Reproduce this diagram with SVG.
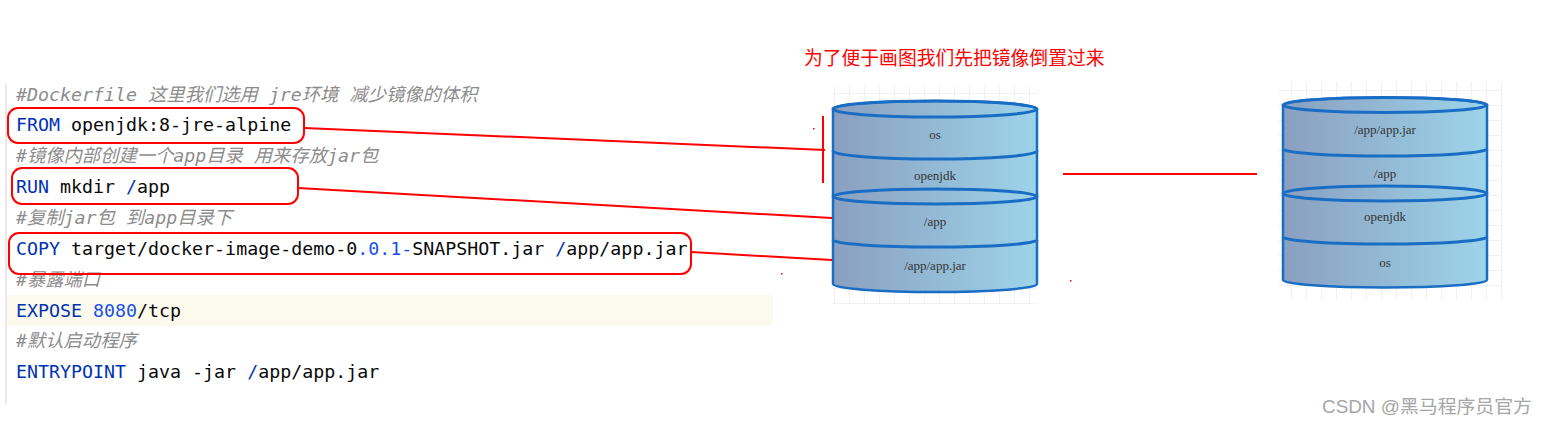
<svg xmlns="http://www.w3.org/2000/svg" width="1547" height="424" viewBox="0 0 1547 424">
<style>
.code{font-family:"DejaVu Sans Mono","Liberation Mono","Noto Sans CJK SC",monospace;font-size:18.3px;fill:#080808}
.cm{font-style:italic;fill:#8c8c8c}
.kw{fill:#0033b3}
.num{fill:#1750eb}
.box{fill:none;stroke:#ff0000;stroke-width:2}
.conn{stroke:#ff0000;stroke-width:2;fill:none}
.cyl{fill:url(#cylGrad);stroke:#1a6dc4;stroke-width:2.5}
.div{fill:none;stroke:#1a6dc4;stroke-width:3}
.lbl{font-family:"Liberation Serif","Times New Roman",serif;font-size:13px;fill:#333;text-anchor:middle}
</style>
<defs>
<linearGradient id="cylGrad" x1="0" y1="0" x2="1" y2="0">
<stop offset="0" stop-color="#8a9fc0"/>
<stop offset="1" stop-color="#9dd4ea"/>
</linearGradient>
<pattern id="gridL" patternUnits="userSpaceOnUse" x="834" y="93" width="15" height="15">
<path d="M0 0V15M0 0H15" stroke="#e3e3e3" stroke-width="1" fill="none"/>
</pattern>
<pattern id="gridR" patternUnits="userSpaceOnUse" x="1291" y="90" width="15" height="15">
<path d="M0 0V15M0 0H15" stroke="#e3e3e3" stroke-width="1" fill="none"/>
</pattern>
</defs>
<rect width="1547" height="424" fill="#ffffff"/>

<g id="code-panel">
<line x1="6" y1="84" x2="6" y2="404" stroke="#e2e2e2" stroke-width="1.5"/>
<rect x="7" y="295" width="766" height="31" fill="#fcfaed"/>
<text class="code cm" x="16" y="101">#Dockerfile 这里我们选用 jre环境 减少镜像的体积</text>
<text class="code" x="16" y="131"><tspan class="kw">FROM</tspan> openjdk:8-jre-alpine</text>
<text class="code cm" x="16" y="162">#镜像内部创建一个app目录 用来存放jar包</text>
<text class="code" x="16" y="193"><tspan class="kw">RUN</tspan> mkdir <tspan class="kw">/</tspan>app</text>
<text class="code cm" x="16" y="224">#复制jar包 到app目录下</text>
<text class="code" x="16" y="255"><tspan class="kw">COPY</tspan> target/docker-image-demo-0<tspan class="num">.0.1-</tspan>SNAPSHOT.jar <tspan class="kw">/</tspan>app/app.jar</text>
<text class="code cm" x="16" y="286">#暴露端口</text>
<text class="code" x="16" y="317"><tspan class="kw">EXPOSE</tspan> <tspan class="num">8080</tspan>/tcp</text>
<text class="code cm" x="16" y="347">#默认启动程序</text>
<text class="code" x="16" y="378"><tspan class="kw">ENTRYPOINT</tspan> java -jar <tspan class="kw">/</tspan>app/app.jar</text>
</g>

<g id="box-from"><rect class="box" x="8" y="108" width="296" height="35" rx="10"/></g>
<g id="box-run"><rect class="box" x="12" y="168" width="286" height="36" rx="10"/></g>
<g id="box-copy"><rect class="box" x="9" y="233" width="682" height="41" rx="10"/></g>

<g id="title">
<text x="804" y="65" font-family="'Noto Sans CJK SC',sans-serif" font-size="18.8" fill="#ff0000">为了便于画图我们先把镜像倒置过来</text>
</g>

<g id="image-left">
<rect x="833" y="86" width="205" height="218" fill="url(#gridL)"/>
<path class="cyl" d="M833 109V284A102 8 0 0 0 1037 284V109A102 8 0 0 0 833 109Z"/>
<ellipse class="div" cx="935" cy="109" rx="102" ry="8" stroke-width="2.5"/>
<path class="div" d="M833 151A102 8 0 0 0 1037 151"/>
<ellipse class="div" cx="935" cy="196.5" rx="102" ry="7.5"/>
<path class="div" d="M833 240A102 7 0 0 0 1037 240"/>
<text class="lbl" x="935" y="139">os</text>
<text class="lbl" x="935" y="180">openjdk</text>
<text class="lbl" x="935" y="226">/app</text>
<text class="lbl" x="935" y="270">/app/app.jar</text>
</g>

<g id="image-right">
<rect x="1278" y="82" width="224" height="218" fill="url(#gridR)"/>
<path class="cyl" d="M1283 105V280A102 7.5 0 0 0 1487 280V105A102 7.5 0 0 0 1283 105Z"/>
<ellipse class="div" cx="1385" cy="105" rx="102" ry="7.5" stroke-width="2.5"/>
<path class="div" d="M1283 149A102 7 0 0 0 1487 149"/>
<ellipse class="div" cx="1385" cy="193.5" rx="102" ry="7.5"/>
<path class="div" d="M1283 237A102 7 0 0 0 1487 237"/>
<text class="lbl" x="1385" y="134">/app/app.jar</text>
<text class="lbl" x="1385" y="178">/app</text>
<text class="lbl" x="1385" y="221">openjdk</text>
<text class="lbl" x="1385" y="267">os</text>
</g>

<g id="connectors">
<line class="conn" x1="304" y1="128" x2="825" y2="150"/>
<line class="conn" x1="823" y1="116" x2="823" y2="183"/>
<line class="conn" x1="298" y1="188" x2="832" y2="218"/>
<line class="conn" x1="691" y1="252" x2="832" y2="260"/>
<line class="conn" x1="1063" y1="174" x2="1257" y2="174"/>
<rect x="813" y="128" width="1.5" height="1.5" fill="#ff0000"/>
<rect x="781" y="273" width="1.5" height="1.5" fill="#ff0000"/>
<rect x="1070" y="280" width="1.5" height="1.5" fill="#ff0000"/>
</g>

<g id="watermark">
<text x="1322" y="413" font-family="'Liberation Sans','Noto Sans CJK SC',sans-serif" font-size="18" fill="#a6a6a6" textLength="210" lengthAdjust="spacingAndGlyphs">CSDN @黑马程序员官方</text>
</g>
</svg>
